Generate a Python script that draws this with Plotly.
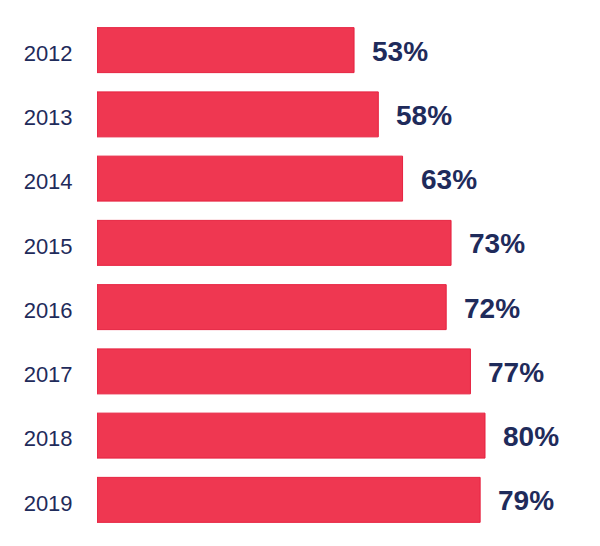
import plotly.graph_objects as go

years = ["2012", "2013", "2014", "2015", "2016", "2017", "2018", "2019"]
values = [53, 58, 63, 73, 72, 77, 80, 79]
labels = [f"{v}%" for v in values]

navy = "#1f2b5b"
fig = go.Figure()
fig.add_trace(go.Bar(
    x=values, y=years, orientation="h",
    marker=dict(color="#EF3751", line=dict(color="#E6213F", width=1)),
    width=0.70, hoverinfo="skip",
))
for i, (v, t) in enumerate(zip(values, labels)):
    fig.add_annotation(x=v, y=i, text=t, xanchor="left", yanchor="middle",
                       xshift=16, yshift=-1, showarrow=False,
                       font=dict(family="Liberation Sans", size=28, color=navy, weight="bold"))

fig.update_layout(
    width=592, height=538,
    margin=dict(l=89, r=18, t=10, b=14),
    plot_bgcolor="white", paper_bgcolor="white",
    showlegend=False,
    xaxis=dict(range=[0, 100], visible=False, fixedrange=True),
    yaxis=dict(type="category", categoryorder="array", categoryarray=years,
               range=[7.5, -0.5], showgrid=False, zeroline=False, showline=False,
               ticks="outside", ticklen=19, tickcolor="rgba(0,0,0,0)",
               ticklabelshift=-3,
               tickfont=dict(family="Liberation Sans", size=22, color=navy)),
)
fig.write_html("out.html")
